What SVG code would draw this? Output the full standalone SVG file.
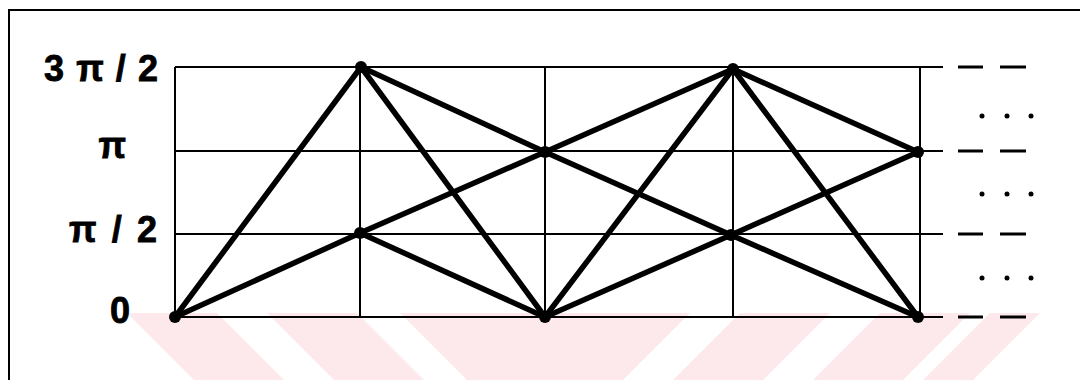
<svg xmlns="http://www.w3.org/2000/svg" width="1080" height="380" viewBox="0 0 1080 380">
<style>
.grid{stroke:#000;stroke-width:2;fill:none}
.edge{stroke:#000;stroke-width:5.5;stroke-linecap:round}
.node{fill:#000}
.lbl{font-family:"Liberation Sans",Arial,sans-serif;font-weight:bold;font-size:36px;fill:#000;stroke:#000;stroke-width:0.8;text-anchor:end}
.dash{stroke:#000;stroke-width:3}
.wm{fill:#fde9eb}
</style>
<rect width="1080" height="380" fill="#fff"/>
<g id="watermark">
<polygon class="wm" points="127,313 217,313 284,380 194,380"/>
<polygon class="wm" points="267,313 357,313 424,380 334,380"/>
<polygon class="wm" points="400,313 690,313 623,380 467,380"/>
<polygon class="wm" points="740,313 830,313 763,380 673,380"/>
<polygon class="wm" points="880,313 970,313 903,380 813,380"/>
<polygon class="wm" points="990,313 1040,313 973,380 923,380"/>
</g>
<rect class="grid" x="9" y="10" width="1100" height="400"/>
<g id="grid">
<line class="grid" x1="175" y1="67" x2="943" y2="67"/>
<line class="grid" x1="175" y1="151" x2="943" y2="151"/>
<line class="grid" x1="175" y1="234" x2="943" y2="234"/>
<line class="grid" x1="175" y1="317" x2="943" y2="317"/>
<line class="grid" x1="175" y1="67" x2="175" y2="317"/>
<line class="grid" x1="360" y1="67" x2="360" y2="317"/>
<line class="grid" x1="545" y1="67" x2="545" y2="317"/>
<line class="grid" x1="733" y1="67" x2="733" y2="317"/>
<line class="grid" x1="920" y1="67" x2="920" y2="317"/>
</g>
<g id="continuation">
<line class="dash" x1="958" y1="67" x2="983" y2="67"/><line class="dash" x1="1000" y1="67" x2="1026" y2="67"/>
<line class="dash" x1="958" y1="151" x2="983" y2="151"/><line class="dash" x1="1000" y1="151" x2="1026" y2="151"/>
<line class="dash" x1="958" y1="234" x2="983" y2="234"/><line class="dash" x1="1000" y1="234" x2="1026" y2="234"/>
<line class="dash" x1="958" y1="317" x2="983" y2="317"/><line class="dash" x1="1000" y1="317" x2="1026" y2="317"/>
<circle class="node" cx="982" cy="116" r="2.5"/><circle class="node" cx="1007" cy="116" r="2.5"/><circle class="node" cx="1031" cy="116" r="2.5"/>
<circle class="node" cx="982" cy="194" r="2.5"/><circle class="node" cx="1007" cy="194" r="2.5"/><circle class="node" cx="1031" cy="194" r="2.5"/>
<circle class="node" cx="982" cy="278" r="2.5"/><circle class="node" cx="1007" cy="278" r="2.5"/><circle class="node" cx="1031" cy="278" r="2.5"/>
</g>
<g id="labels">
<text class="lbl" x="158" y="81" textLength="114" lengthAdjust="spacing">3 π / 2</text>
<text class="lbl" x="126" y="158">π</text>
<text class="lbl" x="157" y="242" textLength="88" lengthAdjust="spacing">π / 2</text>
<text class="lbl" x="130" y="323">0</text>
</g>
<g id="connectors">
<line class="edge" x1="175" y1="317" x2="361" y2="67"/>
<line class="edge" x1="175" y1="317" x2="360" y2="233"/>
<line class="edge" x1="361" y1="67" x2="545" y2="152"/>
<line class="edge" x1="361" y1="67" x2="545" y2="317"/>
<line class="edge" x1="360" y1="233" x2="545" y2="152"/>
<line class="edge" x1="360" y1="233" x2="545" y2="317"/>
<line class="edge" x1="545" y1="152" x2="733" y2="69"/>
<line class="edge" x1="545" y1="152" x2="731" y2="235"/>
<line class="edge" x1="545" y1="317" x2="733" y2="69"/>
<line class="edge" x1="545" y1="317" x2="731" y2="235"/>
<line class="edge" x1="733" y1="69" x2="918" y2="152"/>
<line class="edge" x1="733" y1="69" x2="918" y2="317"/>
<line class="edge" x1="731" y1="235" x2="918" y2="152"/>
<line class="edge" x1="731" y1="235" x2="918" y2="317"/>
</g>
<g id="nodes">
<g id="n0a"><circle class="node" cx="175" cy="317" r="6"/></g>
<g id="n1a"><circle class="node" cx="361" cy="67" r="6"/></g>
<g id="n1b"><circle class="node" cx="360" cy="233" r="6"/></g>
<g id="n2a"><circle class="node" cx="545" cy="152" r="6"/></g>
<g id="n2b"><circle class="node" cx="545" cy="317" r="6"/></g>
<g id="n3a"><circle class="node" cx="733" cy="69" r="6"/></g>
<g id="n3b"><circle class="node" cx="731" cy="235" r="6"/></g>
<g id="n4a"><circle class="node" cx="918" cy="152" r="6"/></g>
<g id="n4b"><circle class="node" cx="918" cy="317" r="6"/></g>
</g>
</svg>
